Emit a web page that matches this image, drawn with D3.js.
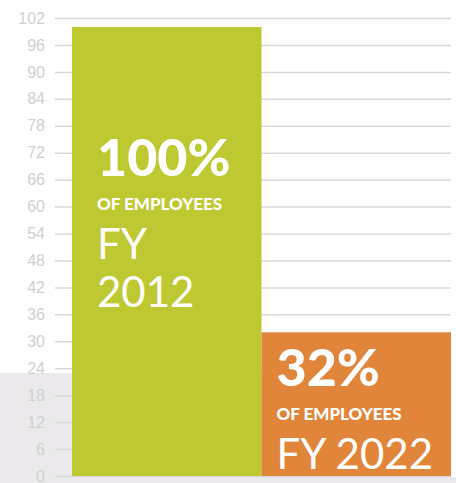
<!DOCTYPE html>
<html>
<head>
<meta charset="utf-8">
<script src="https://cdn.jsdelivr.net/npm/d3@7"></script>
<style>
  body { margin: 0; background: #fff; }
  .axis text { font-family: 'Liberation Sans', Arial, sans-serif; }
</style>
</head>
<body>
<div id="chart"></div>
<script>
const categories = ['FY 2012', 'FY 2022']
const values = [100, 32]
const pctLabels = ['100%', '32%']
const subLabels = ['OF EMPLOYEES', 'OF EMPLOYEES']
const yearLines = [['FY', '2012'], ['FY 2022']]
const yTicks = [0, 6, 12, 18, 24, 30, 36, 42, 48, 54, 60, 66, 72, 78, 84, 90, 96, 102]
const barColors = ['#bec831', '#e0853a']

const width = 456
const height = 483

const svg = d3
  .select('#chart')
  .append('svg')
  .attr('width', width)
  .attr('height', height)

// grey band behind the lower part
svg.append('rect')
  .attr('x', 0).attr('y', 373)
  .attr('width', 451).attr('height', height - 373)
  .attr('fill', '#ebe9eb')
svg.append('rect')
  .attr('x', 451).attr('y', 477)
  .attr('width', 5).attr('height', 6)
  .attr('fill', '#ebe9eb')

const xPositionScale = d3
  .scaleBand()
  .domain(categories)
  .range([72, 451])
  .padding(0)

const yPositionScale = d3
  .scaleLinear()
  .domain([0, 102])
  .range([476, 18])

// axis + gridlines in one go
const yAxis = d3.axisLeft(yPositionScale)
  .tickValues(yTicks)
  .tickSize(396)
  .tickPadding(10)

const axisG = svg.append('g')
  .attr('class', 'axis y-axis')
  .attr('transform', 'translate(451,0)')
  .call(yAxis)

axisG.select('.domain').remove()
axisG.selectAll('line')
  .attr('stroke', '#d8d8d8')
  .attr('stroke-width', 1.5)
axisG.selectAll('text')
  .attr('fill', '#d0d0d0')
  .attr('font-size', '16px')

// bars
svg.selectAll('.bar')
  .data(values)
  .enter()
  .append('rect')
  .attr('class', 'bar')
  .attr('x', (d, i) => xPositionScale(categories[i]))
  .attr('y', d => yPositionScale(d))
  .attr('width', xPositionScale.bandwidth())
  .attr('height', d => yPositionScale(0) - yPositionScale(d))
  .attr('fill', (d, i) => barColors[i])

// labels inside the bars
const labelPad = [25, 15]
const labelG = svg.selectAll('.label')
  .data(values)
  .enter()
  .append('g')
  .attr('class', 'label')
  .attr('transform', (d, i) =>
    'translate(' + (xPositionScale(categories[i]) + labelPad[i]) + ',' + yPositionScale(d) + ')')

labelG.append('text')
  .text((d, i) => pctLabels[i])
  .attr('y', (d, i) => i === 0 ? 149 : 54)
  .attr('fill', '#fff')
  .attr('font-family', 'Lato, sans-serif')
  .attr('font-weight', 900)
  .attr('font-size', '52px')

labelG.append('text')
  .text((d, i) => subLabels[i])
  .attr('y', (d, i) => i === 0 ? 183 : 88)
  .attr('fill', '#fff')
  .attr('font-family', 'Lato, sans-serif')
  .attr('font-weight', 900)
  .attr('font-size', '17px')

labelG.each(function(d, i) {
  const g = d3.select(this)
  const startY = i === 0 ? 232 : 137
  yearLines[i].forEach((line, j) => {
    g.append('text')
      .text(line)
      .attr('y', startY + j * 48)
      .attr('fill', '#fff')
      .attr('font-family', 'Lato, sans-serif')
      .attr('font-weight', 400)
      .attr('font-size', '42px')
  })
})
</script>
</body>
</html>
